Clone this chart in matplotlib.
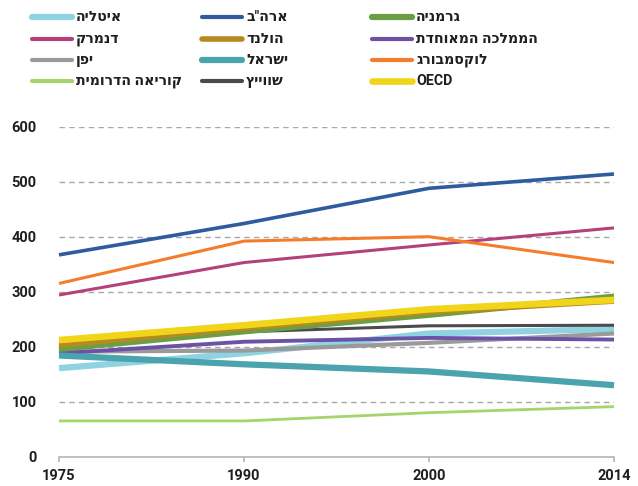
import matplotlib.pyplot as plt
from matplotlib.lines import Line2D
from matplotlib import font_manager

years = ["1975", "1990", "2000", "2014"]

italy = [161, 188, 224, 232]
usa = [367, 424, 488, 514]
germany = [196, 228, 258, 291]
denmark = [294, 353, 385, 416]
netherlands = [203, 234, 263, 283]
uk = [188, 209, 216, 213]
japan = [191, 193, 207, 224]
israel = [184, 168, 155, 130]
luxembourg = [315, 392, 400, 353]
korea = [65, 65, 80, 91]
swiss = [195, 227, 238, 239]
oecd = [212, 239, 268, 285]

# (label, values, colour, width) in drawing order; OECD last so it sits on top
SERIES = [
    ("איטליה", italy, "#8fd3e3", 4.5),
    ("ארה\"ב", usa, "#2f5b9f", 2.6),
    ("דנמרק", denmark, "#b5417b", 2.2),
    ("לוקסמבורג", luxembourg, "#f57c2b", 2.2),
    ("קוריאה הדרומית", korea, "#a4d46b", 2.0),
    ("יפן", japan, "#9a9a9a", 3.0),
    ("הממלכה המאוחדת", uk, "#6b52a5", 2.8),
    ("ישראל", israel, "#4aa3ad", 4.5),
    ("שווייץ", swiss, "#4b4b4b", 2.2),
    ("גרמניה", germany, "#6c9f45", 4.5),
    ("הולנד", netherlands, "#b78a1d", 4.0),
    ("OECD", oecd, "#f1d51b", 4.8),
]

# legend grid: columns left -> right, rows top -> bottom
LEGEND_COLS = [
    ["איטליה", "דנמרק", "יפן", "קוריאה הדרומית"],
    ["ארה\"ב", "הולנד", "ישראל", "שווייץ"],
    ["גרמניה", "הממלכה המאוחדת", "לוקסמבורג", "OECD"],
]

names_installed = {f.name for f in font_manager.fontManager.ttflist}
HEB = "DejaVu Sans Condensed" if "DejaVu Sans Condensed" in names_installed else "DejaVu Sans"
FONT = ["Roboto", HEB, "DejaVu Sans"]
C_TEXT = "#1f1f1f"


def rtl(s):
    # matplotlib has no bidi support, so Hebrew is laid out reversed
    if any("\u0590" <= ch <= "\u05ff" for ch in s):
        return s[::-1]
    return s


W, H = 638, 486
fig = plt.figure(figsize=(W / 100, H / 100), dpi=100)
ax = fig.add_axes([59 / W, 1 - 456.7 / H, (614 - 59) / W, (456.7 - 126.7) / H])

x = list(range(len(years)))
for label, vals, color, lw in SERIES:
    ax.plot(x, vals, color=color, linewidth=lw, solid_capstyle="butt",
            clip_on=False, zorder=3)

ax.set_xlim(0, len(years) - 1)
ax.set_ylim(0, 600)
ax.set_yticks(range(0, 601, 100))
ax.set_xticks(x)
ax.set_xticklabels(years)

for v in range(100, 601, 100):
    ax.axhline(v, color="#a8a8a8", linewidth=1.0, linestyle=(0, (4, 3)), zorder=1)

for side in ("top", "right", "left"):
    ax.spines[side].set_visible(False)
ax.spines["bottom"].set_color("#b5b5b5")
ax.spines["bottom"].set_linewidth(1.2)

ax.tick_params(axis="y", length=0, pad=16)
ax.tick_params(axis="x", direction="out", length=3.8, color="#b5b5b5", width=1.2, pad=5)
for t in ax.get_xticklabels() + ax.get_yticklabels():
    t.set_fontfamily(FONT)
    t.set_fontweight("bold")
    t.set_fontsize(10.5)
    t.set_color(C_TEXT)

# legend drawn by hand in a 3 x 4 grid
style = {label: (color, lw) for label, _, color, lw in SERIES}
col_x = [30, 200, 370]
row_y = [17, 39, 60, 81]
for cx, names in zip(col_x, LEGEND_COLS):
    for ry, name in zip(row_y, names):
        color, lw = style[name]
        fy = 1 - ry / H
        fig.add_artist(Line2D([(cx + 2) / W, (cx + 42) / W], [fy, fy], color=color,
                              linewidth=max(lw, 3.0), solid_capstyle="round",
                              transform=fig.transFigure))
        fig.text((cx + 46) / W, fy, rtl(name), ha="left", va="center",
                 fontsize=10.2, fontweight="bold", color=C_TEXT, family=FONT)

fig.savefig("out.png", dpi=100)
